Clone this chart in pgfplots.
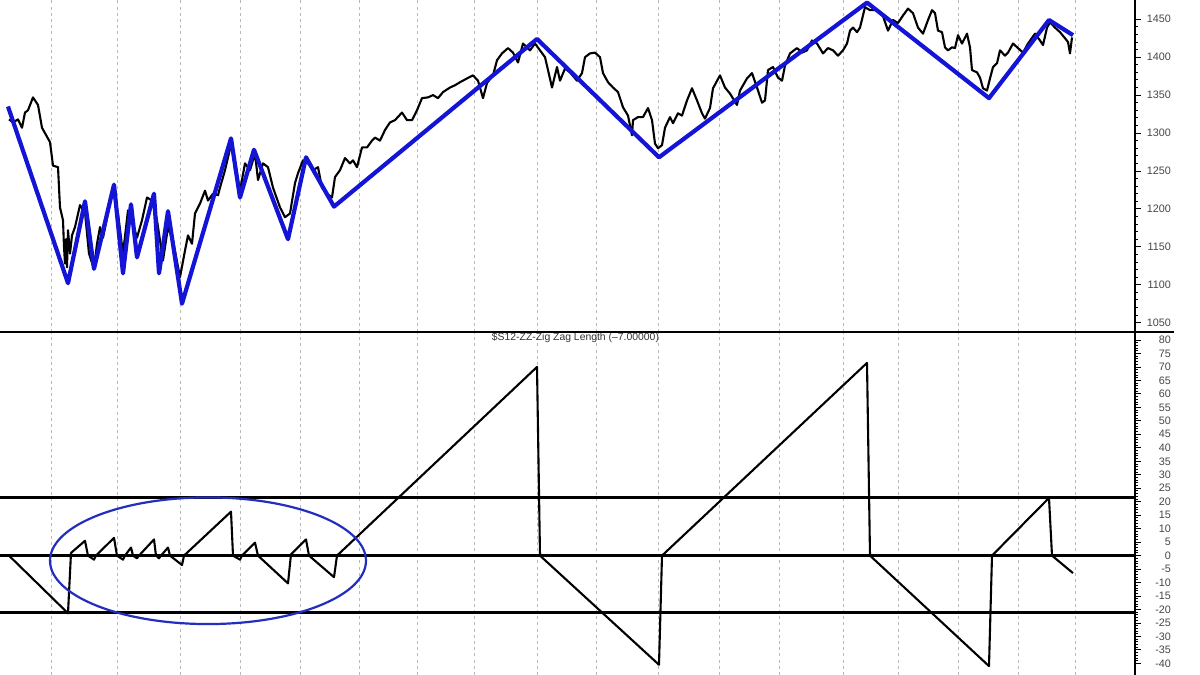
\documentclass[border=0pt]{standalone}
\usepackage{pgfplots}
\pgfplotsset{compat=1.18}
\usepackage{fontspec}
\setmainfont{Liberation Sans}
\definecolor{zzblue}{RGB}{20,20,215}
\definecolor{ellblue}{RGB}{35,45,190}
\definecolor{lblgray}{RGB}{70,70,70}
\pgfplotsset{
  panel/.style={
    scale only axis, width=567.5pt, xmin=0, xmax=1135,
    axis x line*=bottom, axis y line*=right,
    x axis line style={draw=none},
    y axis line style={line width=0.6pt, black},
    xtick={51,117,180,240,300,359,417,474,537,596,658,719,779,843,898,958,1018,1075},
    xticklabels={}, major x tick style={draw=none},
    xmajorgrids, grid style={gray!55, line width=0.45pt, dash pattern=on 1.5pt off 1.6pt},
    tick align=outside, major tick length=3pt, minor tick length=1.6pt,
    y tick style={black, line width=0.45pt},
    minor y tick num=4,
    yticklabel style={font=\fontsize{5.4}{6}\selectfont, text=lblgray, anchor=east, xshift=18.5pt},
    /pgf/number format/assume math mode=true,
    /pgf/number format/set thousands separator={},
    clip=true, clip marker paths=true,
  }
}
\begin{document}
\begin{tikzpicture}
\useasboundingbox (0,0) rectangle (600pt,337.5pt);
% ---------------- top panel ----------------
\begin{axis}[panel, at={(0pt,171.5pt)}, anchor=south west, height=166pt,
  ymin=1037.7, ymax=1475.4, ytick={1050,1100,...,1450}]
\addplot[black, line width=1.05pt, line join=round] coordinates {
(9,1318)(13,1314)(18,1318)(22,1307)(25,1327)(28,1330)(33,1347)(38,1337)(42,1307)(50,1288)
(53,1257)(58,1255)(60,1202)(63,1185)(64,1150)(65,1128)(66,1160)(67,1123)(68,1172)(70,1141)(72,1165)
(75,1176)(80,1205)(85,1195)(89,1141)(94,1121)(97,1154)(100,1176)(103,1162)(108,1194)
(113,1224)(118,1194)(123,1141)(128,1198)(132,1185)(137,1162)(142,1185)(147,1215)(152,1211)
(157,1185)(163,1132)(168,1176)(173,1158)(180,1110)(185,1145)(188,1165)(192,1154)(195,1194)
(200,1207)(205,1224)(208,1211)(213,1220)(218,1218)(220,1228)(225,1251)(228,1268)(232,1290)
(235,1251)(240,1224)(245,1260)(250,1251)(255,1273)(258,1238)(263,1260)(268,1255)(273,1228)
(280,1202)(285,1189)(290,1194)(295,1234)(298,1247)(303,1264)(308,1260)(313,1251)(318,1255)
(322,1228)(327,1220)(332,1215)(335,1242)(340,1251)(345,1267)(350,1260)(353,1264)(357,1255)
(362,1281)(367,1281)(372,1290)(375,1294)(380,1290)(385,1304)(390,1314)(395,1317)(402,1327)
(407,1317)(412,1317)(417,1330)(422,1346)(428,1347)(433,1350)(438,1346)(443,1354)(450,1360)
(455,1363)(460,1367)(467,1372)(473,1376)(478,1369)(483,1346)(487,1366)(493,1376)(497,1396)
(502,1405)(508,1412)(513,1406)(518,1393)(523,1418)(530,1409)(535,1418)(540,1409)(545,1400)
(548,1383)(552,1360)(557,1387)(560,1369)(565,1385)(570,1380)(577,1369)(582,1379)(585,1400)
(590,1405)(595,1406)(600,1400)(603,1379)(608,1367)(613,1360)(618,1354)(623,1334)(628,1323)
(632,1297)(633,1317)(638,1321)(643,1321)(648,1333)(652,1317)(655,1286)(658,1280)(662,1284)
(665,1307)(670,1321)(673,1313)(678,1326)(682,1323)(687,1343)(692,1359)(697,1343)(702,1326)
(705,1319)(710,1333)(713,1359)(720,1376)(725,1360)(730,1352)(737,1337)(740,1356)(747,1372)
(752,1379)(757,1360)(762,1340)(765,1343)(768,1383)(773,1387)(778,1373)(782,1369)(785,1389)
(790,1405)(797,1412)(802,1406)(807,1409)(812,1422)(817,1418)(823,1405)(828,1412)(833,1409)
(838,1402)(843,1409)(847,1418)(850,1435)(853,1439)(857,1433)(860,1439)(865,1466)(870,1462)
(877,1462)(883,1454)(888,1435)(893,1449)(898,1445)(903,1455)(908,1464)(913,1458)(918,1439)
(923,1431)(928,1449)(932,1462)(935,1458)(938,1435)(942,1433)(945,1413)(948,1409)(952,1413)
(955,1412)(958,1429)(962,1418)(967,1431)(970,1413)(972,1383)(977,1380)(980,1373)(983,1359)
(987,1356)(990,1372)(993,1387)(997,1392)(1000,1409)(1005,1402)(1008,1406)(1013,1418)
(1018,1412)(1023,1406)(1028,1418)(1035,1431)(1040,1422)(1043,1416)(1047,1439)(1050,1446)
(1055,1439)(1060,1433)(1065,1425)(1068,1420)(1070,1405)(1072,1426)
};
\addplot[zzblue, line width=2.1pt, line join=round] coordinates {
(8,1335)(68,1102)(85,1210)(94,1121)(114,1232)(123,1115)(131,1206)(137,1136)(154,1220)
(159,1115)(168,1197)(182,1075)(231,1293)(240,1215)(254,1278)(288,1160)(306,1268)(334,1203)
(537,1424)(659,1268)(867,1472)(989,1346)(1049,1449)(1073,1429)
};
\end{axis}
% ---------------- bottom panel ----------------
\begin{axis}[panel, at={(0pt,0pt)}, anchor=south west, height=171pt,
  ymin=-44.3, ymax=82.6, ytick={-40,-35,...,80},
  title={\$S12-ZZ-Zig Zag Length (--7.00000)},
  title style={font=\fontsize{5.2}{6}\selectfont, text=black!80, at={(0.507,1)}, anchor=north, yshift=-2.6pt}]
\addplot[black, line width=1.5pt] coordinates {(0,0) (1135,0)};
\addplot[black, line width=1.5pt] coordinates {(0,-21) (1135,-21)};
\addplot[black, line width=1.5pt] coordinates {(0,21.4) (1135,21.4)};
\addplot[black, line width=1.05pt, line join=round] coordinates {
(9,0)(68,-21.4)(71,1)(85,5.5)(88,0)(94,-1.5)(96,0)(114,6.6)(117,0)(123,-1.5)(125,0)(131,3)
(133,0)(137,-1)(139,0)(154,6)(156,0)(159,-1)(161,0)(168,3)(170,0)(182,-3.5)(184,0)(231,16.3)
(233,0)(240,-1.5)(242,0)(255,4.8)(258,0)(288,-10.3)(291,0.5)(306,6)(309,0)(334,-8)(337,0)
(537,70)(540,0)(659,-40.5)(662,0)(867,71.5)(870,0)(989,-41)(992,0)(1049,21.4)(1052,0)(1073,-6.5)
};
\draw[ellblue, line width=1.1pt] (axis cs:208,-1.9) ellipse [x radius=158, y radius=23.5];
\end{axis}
\draw[black, line width=0.8pt] (0,171.5pt) -- (587pt,171.5pt);
\end{tikzpicture}
\end{document}
